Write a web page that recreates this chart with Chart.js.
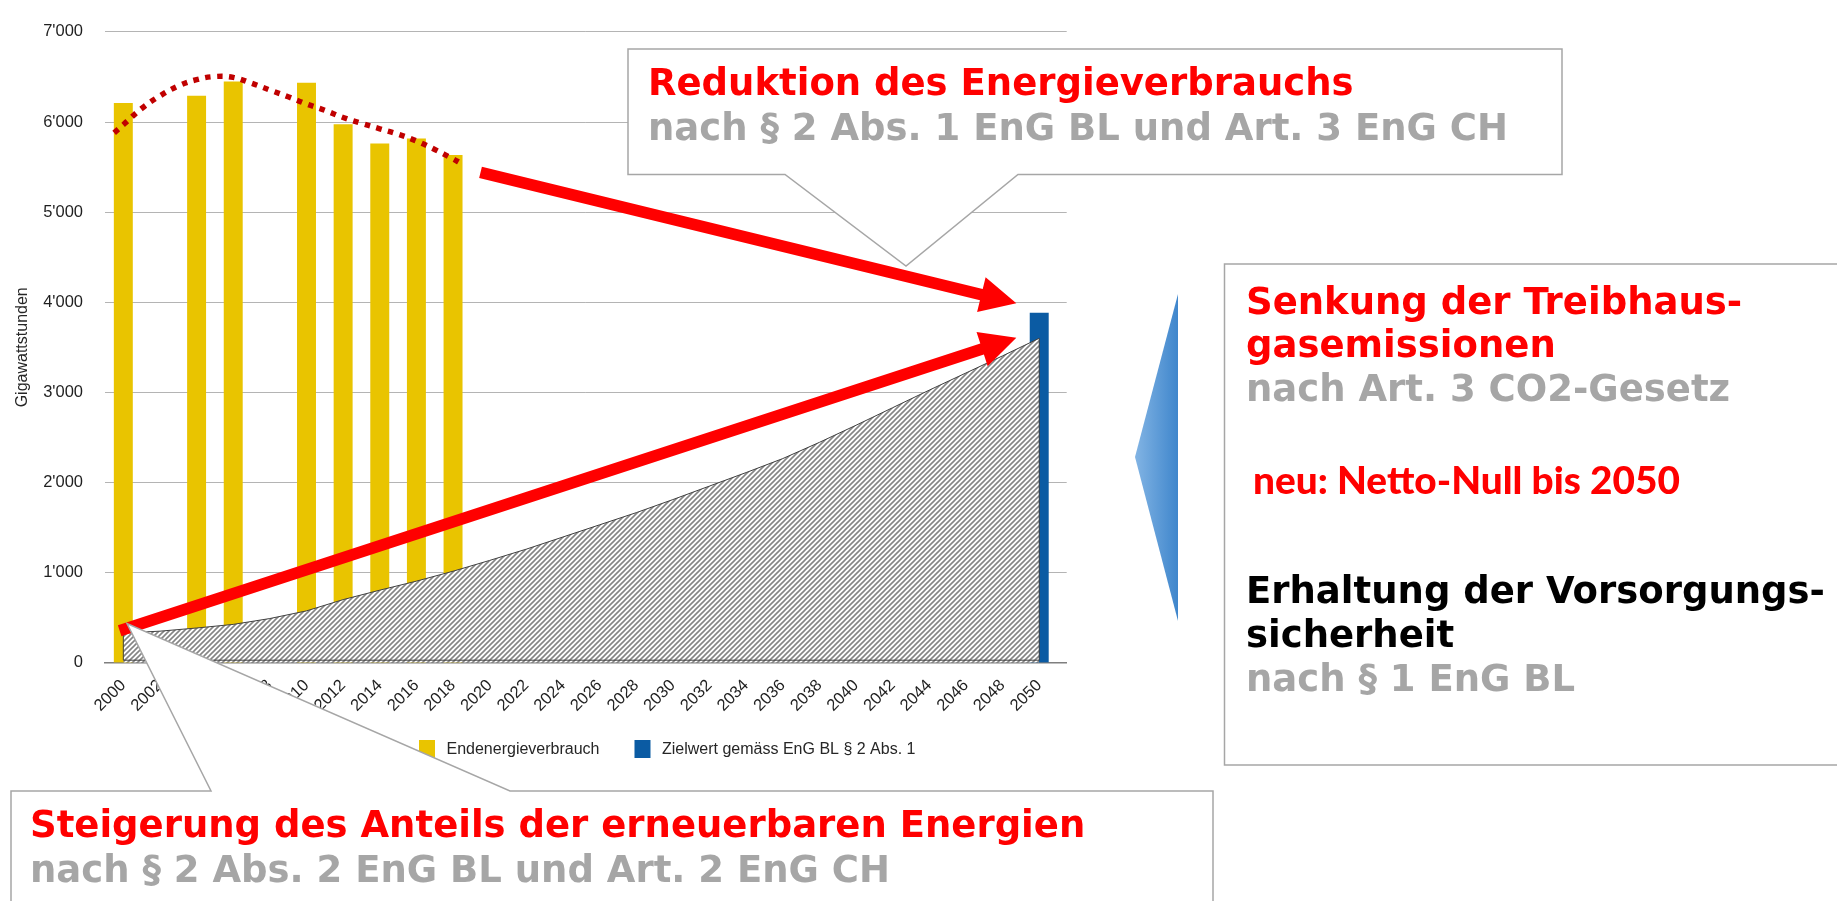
<!DOCTYPE html>
<html lang="de">
<head>
<meta charset="utf-8">
<title>Energieverbrauch und Ziele</title>
<script src="https://cdn.jsdelivr.net/npm/chart.js@4.4.1/dist/chart.umd.min.js"></script>
<style>
  html, body { margin: 0; padding: 0; background: #fff; }
  #wrap { width: 1837px; height: 901px; }
</style>
</head>
<body>
<div id="wrap"><canvas id="chart" width="1837" height="901"></canvas></div>
<script>
// Endenergieverbrauch in GWh (gelbe Saeulen)
const verbrauchJahre = [2000, 2004, 2006, 2010, 2012, 2014, 2016, 2018];
const verbrauchWerte = [6207, 6287, 6446, 6432, 5972, 5759, 5813, 5629];

// Zielwert 2050 (blaue Saeule)
const zielJahre = [2050];
const zielWerte = [3880];

// gepunktete Trendlinie
const trendJahre = [1999.5, 2000, 2001, 2002, 2003, 2004, 2005, 2006, 2007, 2008, 2009,
                    2010, 2011, 2012, 2013, 2014, 2015, 2016, 2017, 2018, 2018.4];
const trendWerte = [5880, 5970, 6150, 6290, 6400, 6470, 6505, 6495, 6430, 6355, 6280,
                    6200, 6130, 6050, 5985, 5925, 5865, 5790, 5695, 5590, 5545];

// erneuerbare Energien (schraffierte Flaeche)
const erneuerbarJahre = [2000, 2002, 2004, 2006, 2008, 2010, 2012, 2014, 2016, 2018, 2020, 2022, 2024,
                         2026, 2028, 2030, 2032, 2034, 2036, 2038, 2040, 2042, 2044, 2046, 2048, 2050];
const erneuerbarWerte = [330, 350, 385, 425, 490, 575, 700, 805, 905, 1015, 1135, 1260, 1395,
                         1530, 1665, 1810, 1960, 2110, 2265, 2445, 2635, 2830, 3025, 3215, 3405, 3600];

// Achsenbeschriftung
const jahrLabels = [2000, 2002, 2004, 2006, 2008, 2010, 2012, 2014, 2016, 2018, 2020, 2022, 2024,
                    2026, 2028, 2030, 2032, 2034, 2036, 2038, 2040, 2042, 2044, 2046, 2048, 2050];
const yTicks = [0, 1000, 2000, 3000, 4000, 5000, 6000, 7000];

// rote Pfeile (Jahr, GWh)
const pfeilReduktion = [[2019.5, 5440], [2048.75, 3990]];
const pfeilErneuerbar = [[1999.8, 355], [2048.75, 3605]];

const ROT = '#ff0000', GRAU = '#a6a6a6', SCHWARZ = '#000000';
const BOLD = "bold 37px 'DejaVu Sans', Verdana, sans-serif";

function punkte(xs, ys) {
  return xs.map((x, i) => ({ x: x, y: ys[i] }));
}

function tausender(v) {
  return String(v).replace(/\B(?=(\d{3})+(?!\d))/g, "'");
}

const canvas = document.getElementById('chart');
const ctx = canvas.getContext('2d');

// Schraffur fuer die Flaeche
function schraffur() {
  const c = document.createElement('canvas');
  c.width = 5; c.height = 5;
  const g = c.getContext('2d');
  g.fillStyle = '#ffffff';
  g.fillRect(0, 0, 5, 5);
  g.strokeStyle = '#858585';
  g.lineWidth = 1.6;
  g.beginPath();
  g.moveTo(-1, 6); g.lineTo(6, -1);
  g.moveTo(-1, 1); g.lineTo(1, -1);
  g.moveTo(4, 6); g.lineTo(6, 4);
  g.stroke();
  return ctx.createPattern(c, 'repeat');
}

function pfeil(c, chart, p) {
  const xs = chart.scales.x, ys = chart.scales.y;
  const x0 = xs.getPixelForValue(p[0][0]), y0 = ys.getPixelForValue(p[0][1]);
  const x1 = xs.getPixelForValue(p[1][0]), y1 = ys.getPixelForValue(p[1][1]);
  const len = Math.hypot(x1 - x0, y1 - y0);
  const ux = (x1 - x0) / len, uy = (y1 - y0) / len;
  const nx = -uy, ny = ux;
  const kopf = 36, breite = 18, schaft = 5.8;
  const bx = x1 - ux * kopf, by = y1 - uy * kopf;
  c.beginPath();
  c.moveTo(x0 + nx * schaft, y0 + ny * schaft);
  c.lineTo(bx + nx * schaft, by + ny * schaft);
  c.lineTo(bx + nx * breite, by + ny * breite);
  c.lineTo(x1, y1);
  c.lineTo(bx - nx * breite, by - ny * breite);
  c.lineTo(bx - nx * schaft, by - ny * schaft);
  c.lineTo(x0 - nx * schaft, y0 - ny * schaft);
  c.closePath();
  c.fillStyle = ROT;
  c.fill();
}

function sprechblase(c, pts) {
  c.beginPath();
  c.moveTo(pts[0][0], pts[0][1]);
  for (let i = 1; i < pts.length; i++) c.lineTo(pts[i][0], pts[i][1]);
  c.closePath();
  c.fillStyle = '#ffffff';
  c.fill();
  c.strokeStyle = GRAU;
  c.lineWidth = 1.5;
  c.stroke();
}

function zeilen(c, list) {
  c.textBaseline = 'alphabetic';
  c.textAlign = 'left';
  list.forEach(z => {
    c.font = z.font || BOLD;
    c.fillStyle = z.farbe;
    if (z.breite) {
      const w = c.measureText(z.text).width;
      c.save();
      c.translate(z.x, z.y);
      c.scale(z.breite / w, 1);
      c.fillText(z.text, 0, 0);
      c.restore();
    } else {
      c.fillText(z.text, z.x, z.y);
    }
  });
}

// Rand der Flaeche links, unten und rechts schliessen
const flaechenRand = {
  id: 'flaechenRand',
  afterDatasetDraw(chart, args) {
    if (args.meta.label !== 'Erneuerbare') return;
    const pts = args.meta.data;
    const first = pts[0], last = pts[pts.length - 1];
    const y0 = chart.scales.y.getPixelForValue(0) - 2.5;
    const c = chart.ctx;
    c.save();
    c.strokeStyle = '#404040';
    c.lineWidth = 1;
    c.beginPath();
    c.moveTo(first.x, first.y);
    c.lineTo(first.x, y0);
    c.lineTo(last.x, y0);
    c.lineTo(last.x, last.y);
    c.stroke();
    c.restore();
  }
};

const overlay = {
  id: 'overlay',
  afterDraw(chart) {
    const c = chart.ctx;
    c.save();

    // Legende
    let lx = 419;
    chart.data.datasets.filter(d => d.type === 'bar').forEach(d => {
      c.fillStyle = d.backgroundColor;
      c.fillRect(lx, 740, 16, 18);
      c.font = "16px 'Liberation Sans', Arial, sans-serif";
      c.fillStyle = '#262626';
      c.textBaseline = 'middle';
      c.textAlign = 'left';
      c.fillText(d.label, lx + 27.5, 749.5);
      lx += 27.5 + c.measureText(d.label).width + 35;
    });

    // obere Sprechblase
    sprechblase(c, [[628, 49], [1562, 49], [1562, 174.5], [1018, 174.5], [906, 266],
                    [785, 174.5], [628, 174.5]]);
    zeilen(c, [
      { text: 'Reduktion des Energieverbrauchs', farbe: ROT, x: 648, y: 95 },
      { text: 'nach § 2 Abs. 1 EnG BL und Art. 3 EnG CH', farbe: GRAU, x: 648, y: 140 }
    ]);

    pfeil(c, chart, pfeilReduktion);
    pfeil(c, chart, pfeilErneuerbar);

    // untere Sprechblase
    sprechblase(c, [[11, 791], [211, 791], [127, 623.5], [510, 791], [1213, 791],
                    [1213, 910], [11, 910]]);
    zeilen(c, [
      { text: 'Steigerung des Anteils der erneuerbaren Energien', farbe: ROT, x: 30, y: 837 },
      { text: 'nach § 2 Abs. 2 EnG BL und Art. 2 EnG CH', farbe: GRAU, x: 30, y: 882 }
    ]);

    // rechter Kasten
    sprechblase(c, [[1224.5, 264], [1850, 264], [1850, 765], [1224.5, 765]]);
    zeilen(c, [
      { text: 'Senkung der Treibhaus-', farbe: ROT, x: 1246, y: 314 },
      { text: 'gasemissionen', farbe: ROT, x: 1246, y: 357 },
      { text: 'nach Art. 3 CO2-Gesetz', farbe: GRAU, x: 1246, y: 401 },
      { text: 'neu: Netto-Null bis 2050', farbe: ROT, x: 1253, y: 494,
        font: "900 38px Lato, 'Open Sans', sans-serif", breite: 427 },
      { text: 'Erhaltung der Vorsorgungs-', farbe: SCHWARZ, x: 1246, y: 603 },
      { text: 'sicherheit', farbe: SCHWARZ, x: 1246, y: 647 },
      { text: 'nach § 1 EnG BL', farbe: GRAU, x: 1246, y: 691 }
    ]);

    // blaues Dreieck
    const grad = c.createLinearGradient(1135, 0, 1178, 0);
    grad.addColorStop(0, '#82b4e4');
    grad.addColorStop(1, '#3f86cc');
    c.beginPath();
    c.moveTo(1178, 294);
    c.lineTo(1135, 457);
    c.lineTo(1178, 621);
    c.closePath();
    c.fillStyle = grad;
    c.fill();

    c.restore();
  }
};

Chart.defaults.font.family = "'Liberation Sans', Arial, sans-serif";
Chart.defaults.font.size = 16;
Chart.defaults.color = '#262626';

new Chart(ctx, {
  type: 'bar',
  data: {
    datasets: [
      {
        type: 'line',
        label: 'Trend',
        data: punkte(trendJahre, trendWerte),
        borderColor: '#c00000',
        borderWidth: 5.5,
        borderDash: [5.5, 6.5],
        borderCapStyle: 'butt',
        pointRadius: 0,
        tension: 0.4,
        fill: false,
        order: 0
      },
      {
        type: 'line',
        label: 'Erneuerbare',
        data: punkte(erneuerbarJahre, erneuerbarWerte),
        borderColor: '#404040',
        borderWidth: 1,
        backgroundColor: schraffur(),
        pointRadius: 0,
        tension: 0,
        fill: 'origin',
        order: 1
      },
      {
        type: 'bar',
        label: 'Endenergieverbrauch',
        data: punkte(verbrauchJahre, verbrauchWerte),
        backgroundColor: '#e9c400',
        barThickness: 18.3,
        grouped: false,
        order: 2
      },
      {
        type: 'bar',
        label: 'Zielwert gemäss EnG BL § 2 Abs. 1',
        data: punkte(zielJahre, zielWerte),
        backgroundColor: '#0b5ba3',
        barThickness: 18.3,
        grouped: false,
        order: 2
      }
    ]
  },
  options: {
    responsive: false,
    animation: false,
    devicePixelRatio: 1,
    layout: { padding: { left: 0, top: 17.3, right: 770.3, bottom: 178.3 } },
    plugins: {
      legend: { display: false },
      tooltip: { enabled: false }
    },
    scales: {
      x: {
        type: 'linear',
        offset: false,
        min: 1999,
        max: 2051.5,
        grid: { display: false, drawTicks: false },
        border: { display: true, color: '#7f7f7f', width: 1.5 },
        afterBuildTicks: s => { s.ticks = jahrLabels.map(v => ({ value: v })); },
        afterFit: s => { s.height = 60; },
        ticks: {
          autoSkip: false,
          minRotation: 45,
          maxRotation: 45,
          padding: 13,
          color: '#1f1f1f',
          font: { size: 16.5 },
          callback: v => String(v)
        }
      },
      y: {
        min: 0,
        max: 7000,
        afterBuildTicks: s => { s.ticks = yTicks.map(v => ({ value: v })); },
        afterFit: s => { s.width = 105; },
        grid: { color: '#b4b4b4', lineWidth: 1, drawTicks: false },
        border: { display: false },
        ticks: {
          padding: 22,
          color: '#1f1f1f',
          font: { size: 16.5 },
          callback: v => tausender(v)
        },
        title: {
          display: true,
          text: 'Gigawattstunden',
          font: { size: 16 },
          color: '#262626',
          padding: { top: 13, bottom: 0 }
        }
      }
    }
  },
  plugins: [flaechenRand, overlay]
});
</script>
</body>
</html>
